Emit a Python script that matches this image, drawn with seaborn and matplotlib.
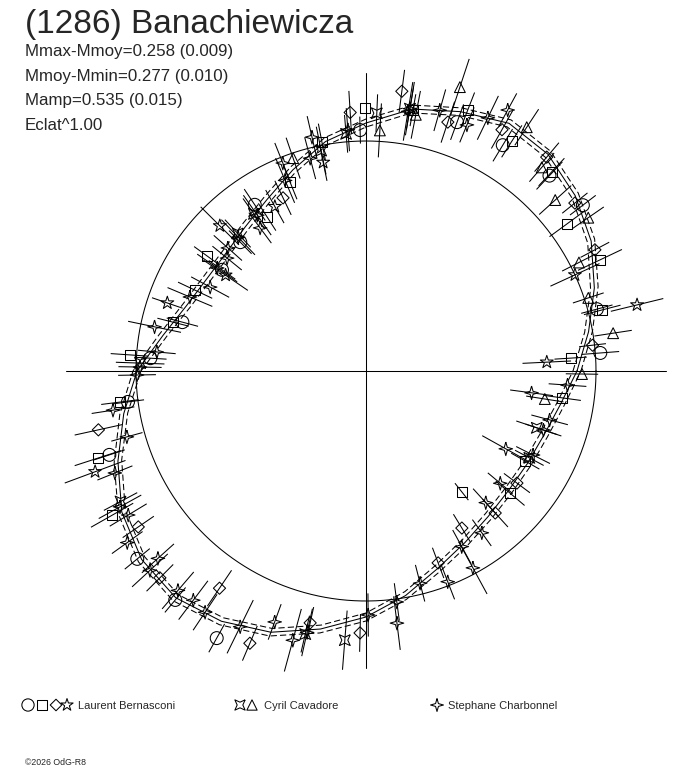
import numpy as np
import pandas as pd
import matplotlib
matplotlib.use("Agg")
import matplotlib.pyplot as plt
from matplotlib.collections import LineCollection
import seaborn as sns

sns.set_theme(style="white")
plt.rcParams['font.family'] = ['Liberation Sans', 'DejaVu Sans']

# ---------------- text ----------------
TITLE = "(1286) Banachiewicza"
STATS = ["Mmax-Mmoy=0.258 (0.009)", "Mmoy-Mmin=0.277 (0.010)",
         "Mamp=0.535 (0.015)", "Eclat^1.00"]
OBSERVERS = ["Laurent Bernasconi", "Cyril Cavadore", "Stephane Charbonnel"]
OBSERVER_SYMBOLS = [["o", "s", "D", "*"], ["q", "^"], ["4"]]
COPYRIGHT = "\u00a92026 OdG-R8"

# ---------------- data (polar: angle in deg, radius in plot units) ----------------
REF_RADIUS = 230          # mean magnitude circle
fit_phase = list(range(0, 360, 10))
fit_radius = [211, 226, 243, 260, 273, 283, 286, 276, 266, 248, 233, 214,
              198, 188, 183, 184, 191, 206, 229, 246, 264, 282, 293, 296,
              289, 278, 262, 246, 228, 210, 198, 190, 186, 186, 189, 197]
fit_sigma = 4

obs_phase = [
    2.8, 3.6, 4.4, 6.5, 8.7, 14.5, 15.0, 13.7, 18.2, 24.7,
    27.0, 25.4, 27.9, 36.2, 34.6, 37.4, 38.8, 42.1, 47.0, 46.8,
    49.2, 49.8, 56.6, 57.6, 58.8, 60.6, 61.5, 64.3, 68.7, 67.7,
    69.9, 71.8, 71.7, 74.2, 79.8, 80.5, 80.5, 80.8, 79.0, 82.7,
    90.2, 87.6, 86.7, 91.4, 93.5, 94.3, 94.8, 100.9, 103.0, 101.5,
    108.9, 104.7, 101.6, 111.8, 113.0, 111.9, 115.6, 119.0, 123.8, 122.7,
    124.9, 125.5, 126.5, 135.2, 133.7, 133.0, 134.3, 138.3, 144.1, 140.9,
    145.3, 144.9, 145.7, 151.7, 154.7, 157.2, 161.1, 165.8, 165.1, 168.2,
    176.6, 176.1, 174.8, 179.0, 178.0, 181.0, 187.2, 187.4, 188.8, 192.4,
    195.4, 198.0, 198.1, 200.4, 202.1, 208.9, 208.0, 209.6, 211.2, 214.4,
    215.7, 219.4, 222.0, 222.7, 225.1, 229.4, 230.2, 233.0, 236.0, 236.3,
    240.8, 243.8, 246.9, 250.0, 254.8, 257.3, 257.0, 257.5, 265.5, 268.7,
    270.5, 277.0, 277.6, 284.3, 291.2, 290.6, 298.6, 298.5, 301.4, 305.6,
    308.4, 312.3, 312.3, 319.7, 320.1, 323.4, 330.5, 333.3, 332.0, 330.9,
    341.6, 341.6, 345.1, 352.5, 351.1, 352.2, 356.0, 359.2]
obs_radius = [
    181, 205, 235, 228, 250, 244, 239, 279, 234, 230,
    239, 259, 259, 249, 270, 273, 268, 255, 272, 268,
    269, 280, 292, 272, 264, 277, 297, 281, 280, 266,
    265, 262, 299, 271, 265, 266, 266, 263, 261, 282,
    263, 258, 241, 241, 259, 242, 238, 233, 240, 225,
    225, 220, 213, 224, 207, 204, 192, 188, 200, 183,
    190, 193, 178, 206, 185, 188, 180, 185, 196, 179,
    181, 176, 170, 177, 189, 191, 210, 199, 190, 216,
    216, 237, 210, 226, 226, 229, 248, 240, 256, 274,
    248, 282, 270, 289, 271, 281, 278, 292, 278, 276,
    294, 296, 280, 294, 292, 289, 298, 287, 262, 290,
    306, 285, 296, 267, 279, 268, 270, 258, 270, 262,
    244, 254, 233, 219, 226, 205, 200, 224, 184, 199,
    154, 192, 178, 189, 175, 188, 183, 187, 185, 160,
    180, 187, 190, 167, 181, 198, 202, 216]
obs_symbol = [
    '*', 's', 'o', 'D', '^', 's', 'o', '*', '^', '*',
    '^', 's', 'D', 's', '^', 'o', 'D', '^', 's', 'o',
    '^', 'D', '^', 's', 'o', 'D', '4', '4', 's', '4',
    'o', 'D', '^', '4', 's', '4', 'q', '4', '^', 'D',
    's', 'q', '^', 'o', 'D', '4', 'q', 's', '4', 'q',
    '^', '4', '*', '4', '4', 's', 'D', '*', 'o', 's',
    '4', 'q', '4', '*', '4', 'q', 'o', '4', 's', '4',
    '4', 'o', '*', '4', 's', '4', '*', 's', 'o', '4',
    'o', 's', '4', '4', 'q', '4', 's', 'o', '4', 'D',
    '4', 's', 'o', '*', '4', '4', 'q', 's', '4', 'D',
    '4', 'o', '4', '4', 'D', '4', 'o', '4', 'D', '4',
    'o', '4', 'D', '4', '4', '4', 'q', 'D', 'q', 'D',
    '4', '4', '4', '4', '4', 'D', '4', '4', 'D', '4',
    's', 'D', '4', 's', '4', 'D', 's', '4', 'q', '4',
    'q', '4', '4', '4', '^', 's', '4', '^']
obs_err = [
    18, 12, 14, 10, 14, 14, 12, 20, 12, 20,
    14, 18, 12, 16, 14, 12, 12, 16, 14, 14,
    14, 14, 16, 14, 14, 16, 14, 18, 14, 14,
    14, 16, 22, 16, 12, 20, 16, 22, 18, 16,
    0, 14, 20, 10, 16, 16, 14, 14, 16, 18,
    16, 16, 14, 16, 18, 14, 14, 14, 14, 12,
    18, 14, 14, 20, 18, 14, 12, 14, 12, 14,
    18, 12, 20, 16, 14, 18, 12, 12, 12, 20,
    12, 14, 14, 16, 18, 14, 14, 12, 16, 18,
    12, 18, 12, 24, 14, 18, 14, 18, 16, 14,
    14, 12, 16, 18, 14, 18, 12, 18, 16, 16,
    12, 22, 14, 14, 24, 18, 14, 12, 22, 14,
    16, 20, 14, 14, 14, 12, 14, 22, 12, 12,
    8, 14, 14, 14, 12, 12, 12, 14, 12, 20,
    16, 14, 14, 16, 14, 14, 14, 12]

n = len(obs_phase)
assert len(obs_radius) == n and len(obs_symbol) == n and len(obs_err) == n

# ---------------- markers ----------------
star4 = [(0, 1), (0.22, 0.22), (1, 0), (0.22, -0.22), (0, -1), (-0.22, -0.22),
         (-1, 0), (-0.22, 0.22), (0, 1)]
sqstar = [(1, 1), (0, 0.55), (-1, 1), (-0.55, 0), (-1, -1), (0, -0.55),
          (1, -1), (0.55, 0), (1, 1)]
MARKERS = {'o': ('o', 9.3), 's': ('s', 7.2), 'D': ('D', 6.2), '*': ('*', 9.8),
           '^': ('^', 7.8), 'q': (sqstar, 7.8), '4': (star4, 9.8)}

ERR_SCALE = 1.35
LW = 0.75

fig = plt.figure(figsize=(6.88, 7.68), dpi=100)
fig.patch.set_facecolor("white")
ax = fig.add_axes([0, 0, 1, 1])
ax.set_xlim(-366, 322)
ax.set_ylim(-397, 371)
ax.set_axis_off()

# axes cross and reference circle
AXIS_HALF = 300
ax.plot([-AXIS_HALF, AXIS_HALF], [0, 0], color="black", lw=LW)
ax.plot([0, 0], [-AXIS_HALF + 3, AXIS_HALF - 2], color="black", lw=LW)
tt = np.linspace(0, 2 * np.pi, 400)
ax.plot(REF_RADIUS * np.cos(tt), REF_RADIUS * np.sin(tt), color="black", lw=LW)

# fitted curve and envelopes
fp = np.deg2rad(np.array(fit_phase + [fit_phase[0]]))
fr = np.array(fit_radius + [fit_radius[0]], dtype=float)
fit_df = pd.DataFrame({"x": fr * np.cos(fp), "y": fr * np.sin(fp)})
sns.lineplot(data=fit_df, x="x", y="y", sort=False, estimator=None,
             color="black", lw=LW, ax=ax)
for sgn in (-1, 1):
    rr = fr + sgn * fit_sigma
    env = pd.DataFrame({"x": rr * np.cos(fp), "y": rr * np.sin(fp)})
    sns.lineplot(data=env, x="x", y="y", sort=False, estimator=None,
                 color="black", lw=LW, ax=ax, linestyle=(0, (6, 3)))

# observations
ph = np.deg2rad(np.array(obs_phase))
rad = np.array(obs_radius, dtype=float)
err = np.array(obs_err, dtype=float) * ERR_SCALE
segs = []
for a, r, e in zip(ph, rad, err):
    if e > 0:
        segs.append([((r - e) * np.cos(a), (r - e) * np.sin(a)),
                     ((r + e) * np.cos(a), (r + e) * np.sin(a))])
ax.add_collection(LineCollection(segs, colors="black", linewidths=LW))

obs_df = pd.DataFrame({"x": rad * np.cos(ph), "y": rad * np.sin(ph),
                       "sym": obs_symbol})
for code, (mk, ms) in MARKERS.items():
    sub = obs_df[obs_df["sym"] == code]
    if len(sub) == 0:
        continue
    sns.scatterplot(data=sub, x="x", y="y", marker=mk, s=ms ** 2,
                    fc="none", ec="black", linewidth=LW, ax=ax, zorder=3)
ax.set_xlabel("")
ax.set_ylabel("")

# ---------------- overlay for texts / legend (pixel coordinates) ----------------
ov = fig.add_axes([0, 0, 1, 1])
ov.set_xlim(0, 688)
ov.set_ylim(768, 0)
ov.set_axis_off()
ov.patch.set_alpha(0)

ov.text(25, 33, TITLE, fontsize=24, ha="left", va="baseline")
for i, s in enumerate(STATS):
    ov.text(25, 56 + 24.7 * i, s, fontsize=12.2, ha="left", va="baseline")

LEG_Y = 705
leg_sym_x = [[28, 42, 56, 67], [240, 252], [437]]
leg_text_x = [78, 264, 448]
for syms, xs, tx, name in zip(OBSERVER_SYMBOLS, leg_sym_x, leg_text_x, OBSERVERS):
    for code, xx in zip(syms, xs):
        mk, ms = MARKERS[code]
        ov.scatter([xx], [LEG_Y], marker=mk, s=(ms * 0.95) ** 2, fc="none",
                   ec="black", linewidth=LW)
    ov.text(tx, LEG_Y + 4, name, fontsize=8, ha="left", va="baseline")

ov.text(25, 765, COPYRIGHT, fontsize=6.3, ha="left", va="baseline")

fig.savefig("out.png", dpi=100, facecolor="white")
